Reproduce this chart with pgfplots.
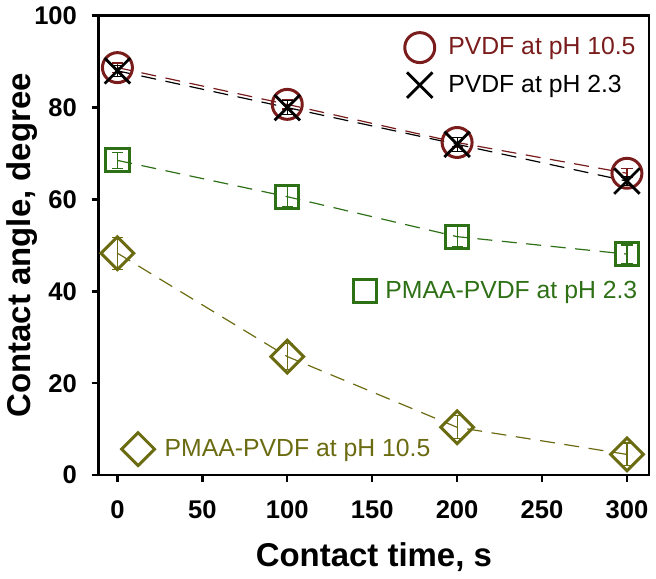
\documentclass[border=0pt]{standalone}
\usepackage{pgfplots}
\pgfplotsset{compat=1.18}
\usepackage{fontspec}
\setmainfont{Liberation Sans}
\definecolor{cred}{RGB}{122,28,28}
\definecolor{cgreen}{RGB}{46,112,22}
\definecolor{colive}{RGB}{107,107,18}
\pgfplotsset{
  common/.style={
    width=275.5pt, height=230pt, scale only axis,
    xmin=-11, xmax=313, ymin=0, ymax=100,
  },
  leg/.style={
    legend style={draw=none, fill=none, font=\fontsize{12.4}{14}\selectfont,
      row sep=4.2pt, inner sep=0pt, legend cell align=left},
  },
  limg/.style={legend image code/.code={%
    \path[draw=none, fill=none] (0pt,0pt) -- (#1*2,0pt);
    \draw[##1, solid] plot coordinates {(#1,0pt)};}},
}
\begin{document}
\begin{tikzpicture}
\begin{axis}[common, leg, limg=12.3pt,
  axis line style={line width=1.35pt},
  xtick={0,50,100,150,200,250,300},
  ytick={0,20,40,60,80,100},
  tick align=outside, xtick pos=bottom, ytick pos=left,
  major tick length=3.4pt, tick style={line width=1.2pt, black},
  /pgf/number format/assume math mode=true,
  ticklabel style={font=\fontsize{12.8}{15}\selectfont\bfseries},
  xticklabel shift=6pt, yticklabel shift=4pt,
  xlabel={Contact time, s}, ylabel={Contact angle, degree},
  label style={font=\fontsize{16.5}{19}\selectfont\bfseries},
  xlabel shift=5pt, ylabel shift=-8.5pt,
  legend style={at={(rel axis cs:0.538,0.964)}, anchor=north west},
  every axis plot/.append style={dash pattern=on 7.5pt off 4.8pt, line width=0.6pt},
  error bars/error bar style={solid, line width=0.6pt},
  error bars/error mark options={solid, rotate=90, mark size=2.8pt, line width=0.6pt},
]
\addlegendimage{only marks, cred, mark=o, mark size=7.5pt, mark options={solid, line width=1.5pt}}
\addlegendentry[text=cred]{PVDF at pH 10.5}
\addlegendimage{only marks, black, mark=x, mark size=9pt, mark options={solid, line width=1.4pt}}
\addlegendentry[text=black]{PVDF at pH 2.3}
\addplot[forget plot, cred, mark=o, mark size=7.5pt, mark options={solid, line width=1.5pt},
  error bars/.cd, y dir=both, y explicit]
  coordinates {(0,88.7) +- (0,1) (100,80.7) +- (0,1) (200,72.4) +- (0,1) (300,65.7) +- (0,1)};
\addplot[forget plot, black, mark=x, mark size=9pt, mark options={solid, line width=1.4pt},
  error bars/.cd, y dir=both, y explicit]
  coordinates {(0,88.0) +- (0,1.2) (100,80.0) +- (0,1.5) (200,72.0) +- (0,1.5) (300,64.0) +- (0,1)};
\addplot[forget plot, cgreen, mark=square, mark size=5.8pt, mark options={solid, line width=1.5pt},
  error bars/.cd, y dir=both, y explicit, error bar style={cgreen}]
  coordinates {(0,68.5) +- (0,1.8) (100,60.6) +- (0,2.2) (200,51.9) +- (0,2.2) (300,48.1) +- (0,2)};
\addplot[forget plot, colive, mark=square, mark size=5.8pt, mark options={solid, rotate=45, line width=1.5pt},
  error bars/.cd, y dir=both, y explicit, error bar style={colive}]
  coordinates {(0,48.3) +- (0,3.5) (100,25.8) +- (0,2.8) (200,10.4) +- (0,2.5) (300,4.5) +- (0,2.5)};
\end{axis}
\begin{axis}[common, leg, hide axis, limg=8.3pt,
  legend style={at={(rel axis cs:0.4526,0.40)}, anchor=west}]
\addlegendimage{only marks, cgreen, mark=square, mark size=5.8pt, mark options={solid, line width=1.5pt}}
\addlegendentry[text=cgreen]{PMAA-PVDF at pH 2.3}
\end{axis}
\begin{axis}[common, leg, hide axis, limg=11.3pt,
  legend style={at={(rel axis cs:0.0298,0.0565)}, anchor=west}]
\addlegendimage{only marks, colive, mark=square, mark size=5.8pt, mark options={solid, rotate=45, line width=1.5pt}}
\addlegendentry[text=colive]{PMAA-PVDF at pH 10.5}
\end{axis}
\path (current axis.east) ++(3.5pt,0);
\end{tikzpicture}
\end{document}
